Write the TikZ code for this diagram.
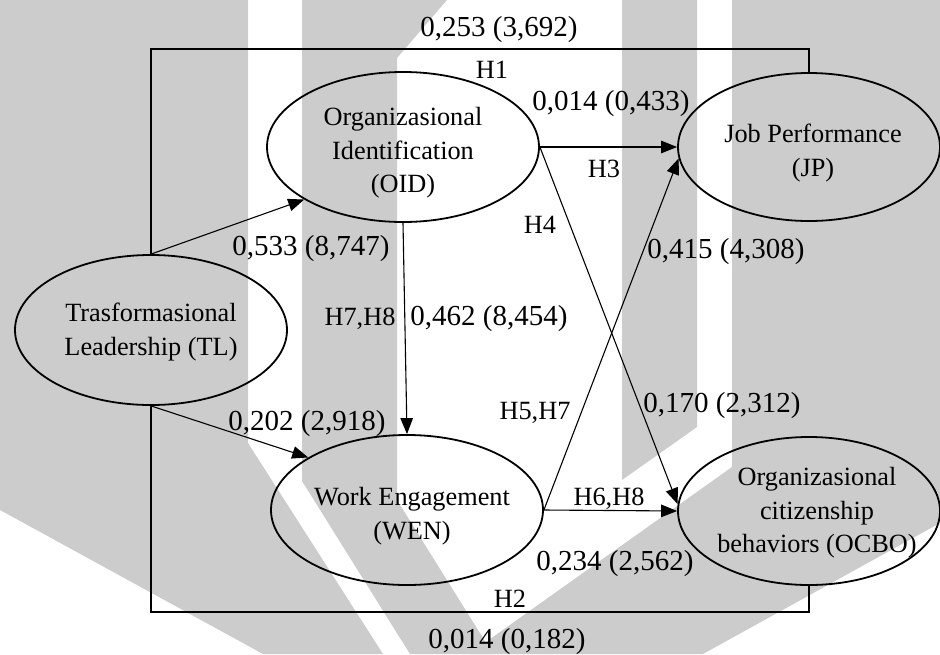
\documentclass[tikz,border=0pt]{standalone}
\usepackage{fontspec}
\setmainfont{Liberation Serif}
\usetikzlibrary{arrows.meta,shapes.geometric}
\definecolor{wm}{HTML}{CCCCCC}
\begin{document}
\begin{tikzpicture}[x=1pt,y=-1pt,
  ell/.style={draw,ellipse,line width=1.8pt,inner sep=0pt,minimum width=272pt,minimum height=150pt},
  ellr/.style={ell,minimum width=262pt,minimum height=148pt},
  etext/.style={align=center,font=\fontsize{26.3}{33.5}\selectfont,inner sep=0pt},
  lab/.style={anchor=base,font=\fontsize{29}{34}\selectfont,inner sep=0pt},
  hlab/.style={anchor=base,font=\fontsize{26.3}{32}\selectfont,inner sep=0pt},
  conn/.style={line width=1.1pt},
  arr/.style={conn,-{Triangle[length=16pt,width=12.5pt]}}]
\useasboundingbox (0,0) rectangle (940,654);
% watermark
\fill[wm] (0,0) -- (248,0) -- (248,443) -- (383,654) -- (263,654) -- (0,510) -- cycle;
\fill[wm] (302,0) -- (447,0) -- (397,58) -- (397,500) -- (493,654) -- (410,654) -- (302,481) -- cycle;
\fill[wm] (622,0) -- (697,0) -- (697,427) -- (622,480) -- cycle;
\fill[wm] (732,0) -- (940,0) -- (940,523) -- (703,654) -- (469,654) -- (732,467) -- cycle;
% ellipses
\node[ell] (TL) at (151,330) {};
\node[ell] (OID) at (403,147) {};
\node[ell] (WEN) at (407,510) {};
\node[ellr] (JP) at (809,147) {};
\node[ellr] (OCBO) at (809,511) {};
\node[etext] (TLt) at (151,332) {Trasformasional\\Leadership (TL)};
\node[etext] (OIDt) at (403,153) {Organizasional\\Identification\\(OID)};
\node[etext] (WENt) at (412,516) {Work Engagement\\(WEN)};
\node[etext] (JPt) at (813,153) {Job Performance\\(JP)};
\node[etext] (OCBOt) at (817,513) {Organizasional\\citizenship\\behaviors (OCBO)};
% helper coordinates
\coordinate (top) at (0,49);
\coordinate (bot) at (0,612);
% connectors
\draw[conn] (TL.north) -- (TL.north |- top) -| (JP.north);
\draw[conn] (TL.south) -- (TL.south |- bot) -| (OCBO.south);
\draw[arr] (TL.north) -- (OID.208);
\draw[arr] (TL.south) -- (WEN.152);
\draw[arr] (OID.south) -- (WEN.north);
\draw[arr] (OID.east) -- (JP.west);
\draw[arr] (OID.east) -- (OCBO.177);
\draw[arr] (WEN.east) -- (JP.185);
\draw[arr] (WEN.east) -- (OCBO.west);
% labels
\node[lab] (l1) at (499,36) {0,253 (3,692)};
\node[hlab] (h1) at (492,78) {H1};
\node[lab] (l2) at (611,110) {0,014 (0,433)};
\node[hlab] (h3) at (604,177) {H3};
\node[hlab] (h4) at (540,233) {H4};
\node[lab] (l3) at (726,258) {0,415 (4,308)};
\node[lab] (l4) at (311,255) {0,533 (8,747)};
\node[hlab] (h78) at (360,325) {H7,H8};
\node[lab] (l5) at (489,325) {0,462 (8,454)};
\node[lab] (l6) at (307,430) {0,202 (2,918)};
\node[hlab] (h57) at (535,419) {H5,H7};
\node[lab] (l7) at (722,412) {0,170 (2,312)};
\node[hlab] (h68) at (609,505) {H6,H8};
\node[lab] (l8) at (615,570) {0,234 (2,562)};
\node[hlab] (h2) at (510,607) {H2};
\node[lab] (l9) at (507,648) {0,014 (0,182)};
\end{tikzpicture}
\end{document}
